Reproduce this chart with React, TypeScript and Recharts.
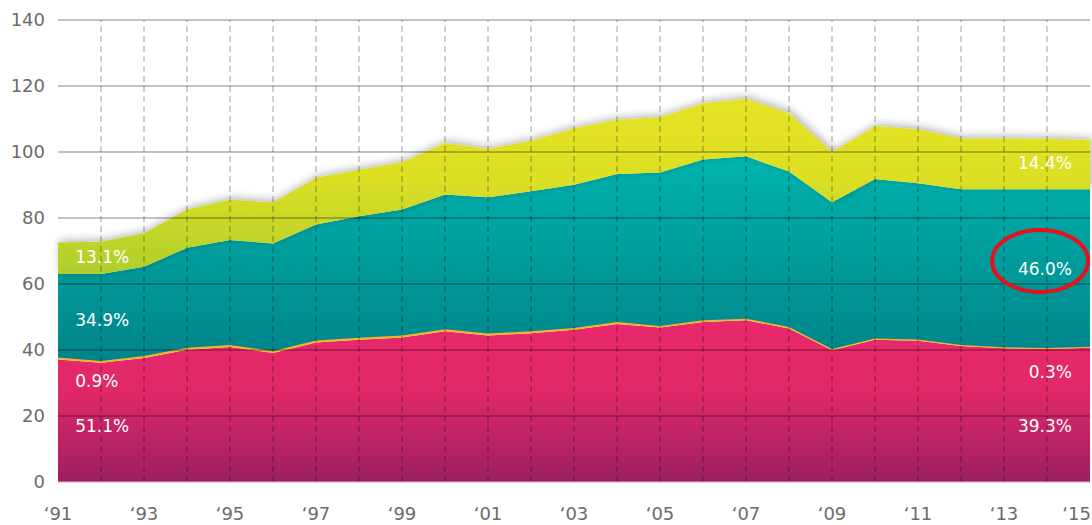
import { AreaChart, Area, XAxis, YAxis, ReferenceLine, ReferenceDot } from "recharts";

const years = [1991, 1992, 1993, 1994, 1995, 1996, 1997, 1998, 1999, 2000, 2001, 2002, 2003, 2004, 2005, 2006, 2007, 2008, 2009, 2010, 2011, 2012, 2013, 2014, 2015];
const pink = [37.1, 36.1, 37.6, 40.1, 40.9, 39.1, 42.3, 43.1, 43.8, 45.7, 44.4, 45.1, 46.1, 47.9, 46.8, 48.5, 49.0, 46.5, 39.9, 43.1, 42.8, 41.2, 40.5, 40.3, 40.7];
const amber = [0.65, 0.6, 0.6, 0.6, 0.6, 0.6, 0.6, 0.6, 0.6, 0.6, 0.6, 0.6, 0.6, 0.6, 0.5, 0.5, 0.5, 0.5, 0.4, 0.4, 0.4, 0.3, 0.3, 0.3, 0.3];
const teal = [25.3, 26.3, 27.0, 30.3, 31.8, 32.6, 35.1, 36.8, 38.2, 40.8, 41.3, 42.4, 43.4, 44.8, 46.5, 48.7, 49.2, 47.1, 44.5, 48.3, 47.3, 47.2, 47.9, 48.1, 47.7];
const lime = [9.5, 9.8, 10.2, 11.6, 12.2, 12.4, 14.2, 14.1, 14.3, 15.6, 14.6, 15.3, 17.1, 16.5, 16.7, 17.1, 17.4, 17.7, 15.2, 16.1, 16.4, 15.4, 15.4, 15.3, 14.9];

const yTicks = [0, 20, 40, 60, 80, 100, 120, 140];
const xTicks = [1991, 1993, 1995, 1997, 1999, 2001, 2003, 2005, 2007, 2009, 2011, 2013, 2015];
const gridYears = years.slice(1, -1);

// share labels: [x (year), y (value), text, anchor]
const shareLabels: Array<[number, number, string, "start" | "end"]> = [
  [1991.4, 68.2, "13.1%", "start"],
  [1991.4, 49.1, "34.9%", "start"],
  [1991.4, 30.6, "0.9%", "start"],
  [1991.4, 17.0, "51.1%", "start"],
  [2014.58, 96.7, "14.4%", "end"],
  [2014.58, 64.5, "46.0%", "end"],
  [2014.58, 33.3, "0.3%", "end"],
  [2014.58, 17.0, "39.3%", "end"],
];

const data = years.map((year, i) => ({
  year,
  pink: pink[i],
  amber: amber[i],
  teal: teal[i],
  lime: lime[i],
}));

const font = "'DejaVu Sans', Verdana, sans-serif";

const YearTick = (props: any) => {
  const { x, y, payload } = props;
  const last = payload.value === xTicks[xTicks.length - 1];
  return (
    <text
      x={last ? x + 1 : x}
      y={y}
      dy="0.71em"
      textAnchor={last ? "end" : "middle"}
      fill="#6b6b6b"
      fontSize={18}
      fontFamily={font}
    >
      {"\u2018" + String(payload.value).slice(2)}
    </text>
  );
};

export default function App() {
  return (
    <div style={{ position: "absolute", left: 0, top: 0, width: 1092, height: 525, overflow: "hidden", background: "#fff" }}>
      <AreaChart width={1130} height={525} data={data} margin={{ top: 20, right: 40, bottom: 0, left: 0 }}>
        <defs>
          <linearGradient id="gPink" x1="0" y1="0" x2="0" y2="1">
            <stop offset="0%" stopColor="#e8296b" />
            <stop offset="45%" stopColor="#e02868" />
            <stop offset="100%" stopColor="#9b1f61" />
          </linearGradient>
          <linearGradient id="gTeal" x1="0" y1="0" x2="0" y2="1">
            <stop offset="0%" stopColor="#00b4ae" />
            <stop offset="100%" stopColor="#00848a" />
          </linearGradient>
          <linearGradient id="gLime" x1="0" y1="0" x2="0" y2="1">
            <stop offset="0%" stopColor="#e6e325" />
            <stop offset="45%" stopColor="#dcdf24" />
            <stop offset="70%" stopColor="#c8d828" />
            <stop offset="100%" stopColor="#aece2e" />
          </linearGradient>
          <filter id="shadow" x="-5%" y="-20%" width="110%" height="140%">
            <feDropShadow dx="2" dy="-2" stdDeviation="4" floodColor="#000" floodOpacity="0.3" />
          </filter>
        </defs>
        <XAxis
          dataKey="year"
          type="number"
          domain={[1991, 2015]}
          ticks={xTicks}
          tick={<YearTick />}
          tickLine={false}
          tickSize={0}
          tickMargin={25}
          axisLine={{ stroke: "#eaa8c8" }}
          height={43}
        />
        <YAxis
          domain={[0, 140]}
          ticks={yTicks}
          tick={{ fill: "#6b6b6b", fontSize: 18, fontFamily: font }}
          tickLine={false}
          tickSize={0}
          tickMargin={13}
          axisLine={false}
          width={58}
        />
        <Area type="linear" dataKey="pink" stackId="s" stroke="none" fill="url(#gPink)" fillOpacity={1} isAnimationActive={false} />
        <Area type="linear" dataKey="amber" stackId="s" stroke="#f2b324" strokeWidth={1.5} fill="#f2b324" fillOpacity={1} isAnimationActive={false} />
        <Area type="linear" dataKey="teal" stackId="s" stroke="none" fill="url(#gTeal)" fillOpacity={1} isAnimationActive={false} />
        <Area type="linear" dataKey="lime" stackId="s" stroke="none" fill="url(#gLime)" fillOpacity={1} filter="url(#shadow)" isAnimationActive={false} />
        {yTicks.slice(1).map((v) => (
          <ReferenceLine key={"h" + v} y={v} stroke="rgba(0,0,0,0.32)" strokeWidth={1.5} />
        ))}
        {gridYears.map((yr) => (
          <ReferenceLine key={"v" + yr} x={yr} stroke="rgba(0,0,0,0.38)" strokeWidth={1} strokeDasharray="6 4" />
        ))}
        {shareLabels.map(([x, y, text, anchor]) => (
          <ReferenceDot
            key={text}
            x={x}
            y={y}
            r={0}
            shape={(p: any) => (
              <text x={p.cx} y={p.cy} dy="0.35em" textAnchor={anchor} fill="#fff" fontSize={17} fontFamily={font}>
                {text}
              </text>
            )}
          />
        ))}
        <ReferenceDot
          x={2013.84}
          y={67}
          r={0}
          shape={(p: any) => <ellipse cx={p.cx} cy={p.cy} rx={48} ry={31} fill="none" stroke="#e8101a" strokeWidth={4} />}
        />
      </AreaChart>
    </div>
  );
}
